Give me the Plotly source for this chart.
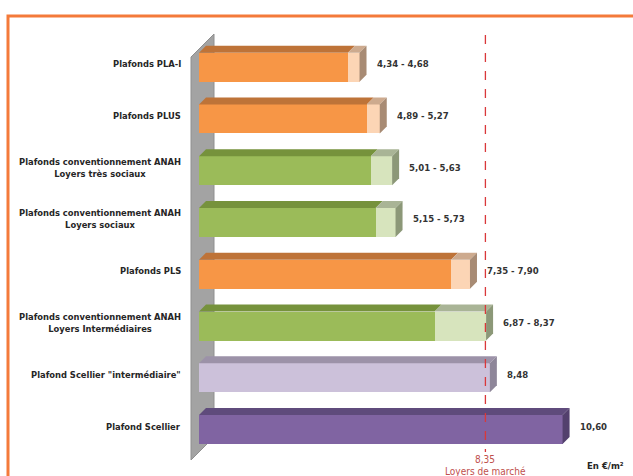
import plotly.graph_objects as go

# ---------------- data ----------------
categories = [
    "Plafonds PLA-I",
    "Plafonds PLUS",
    "Plafonds conventionnement ANAH<br>Loyers très sociaux",
    "Plafonds conventionnement ANAH<br>Loyers sociaux",
    "Plafonds PLS",
    "Plafonds conventionnement ANAH<br>Loyers Intermédiaires",
    "Plafond Scellier \"intermédiaire\"",
    "Plafond Scellier",
]
low_values = [4.34, 4.89, 5.01, 5.15, 7.35, 6.87, 8.48, 10.60]
high_values = [4.68, 5.27, 5.63, 5.73, 7.90, 8.37, 8.48, 10.60]
market_rent = 8.35
market_label = "Loyers de marché"
unit_label = "En €/m²"

# ---------------- styles ----------------
W, H = 633, 476
PX = 34.3          # pixels per € unit
ORIGIN = 199       # pixel x of value 0
ROW = 51.76        # pixel pitch between bars
Y0 = 67.2          # pixel y of first bar centre
BAR_PX = 29
DEPTH = 7

palette = {
    "orange": dict(front="#F79646", light="#FCD5B5", top="#BE7338", ltop="#CDAA8E", side="#A88B74"),
    "green": dict(front="#9BBB59", light="#D7E4BD", top="#76923C", ltop="#A9B496", side="#8C9878"),
    "lpurple": dict(front="#CCC1DA", light="#CCC1DA", top="#9C92A8", ltop="#9C92A8", side="#8E8699"),
    "purple": dict(front="#8064A2", light="#8064A2", top="#5F4B7C", ltop="#5F4B7C", side="#53406D"),
}
groups = ["orange", "orange", "green", "green", "orange", "green", "lpurple", "purple"]

def fmt(v):
    return f"{v:.2f}".replace(".", ",")

xr = [-ORIGIN / PX, (W - ORIGIN) / PX]
yr = [(H - Y0) / ROW, -Y0 / ROW]
bw = BAR_PX / ROW
dx = DEPTH / PX
dy = -DEPTH / ROW

def px2x(p):
    return (p - ORIGIN) / PX

def py2y(p):
    return (p - Y0) / ROW

fig = go.Figure()
shapes = []

# wall
wall = [(px2x(191), py2y(57)), (px2x(214), py2y(34)), (px2x(214), py2y(437)), (px2x(191), py2y(460))]
path = "M " + " L ".join(f"{a},{b}" for a, b in wall) + " Z"
shapes.append(dict(type="path", path=path, xref="x", yref="y", fillcolor="#A3A3A3",
                   line=dict(color="#8F8F8F", width=1), layer="below"))

idx = list(range(len(categories)))
front_cols = [palette[g]["front"] for g in groups]
light_cols = [palette[g]["light"] for g in groups]

fig.add_trace(go.Bar(y=idx, x=low_values, base=0, orientation="h", width=bw,
                     marker=dict(color=front_cols, line=dict(width=0)), showlegend=False))
fig.add_trace(go.Bar(y=idx, x=[h - l for l, h in zip(low_values, high_values)], base=low_values,
                     orientation="h", width=bw,
                     marker=dict(color=light_cols, line=dict(width=0)), showlegend=False))

def poly(pts, color):
    p = "M " + " L ".join(f"{a},{b}" for a, b in pts) + " Z"
    return dict(type="path", path=p, xref="x", yref="y", fillcolor=color,
                line=dict(width=0), layer="above")

for i, (lo, hi, g) in enumerate(zip(low_values, high_values, groups)):
    c = palette[g]
    top = i - bw / 2
    bot = i + bw / 2
    shapes.append(poly([(0, top), (lo, top), (lo + dx, top + dy), (dx, top + dy)], c["top"]))
    if hi > lo:
        shapes.append(poly([(lo, top), (hi, top), (hi + dx, top + dy), (lo + dx, top + dy)], c["ltop"]))
    shapes.append(poly([(hi, top), (hi + dx, top + dy), (hi + dx, bot + dy), (hi, bot)], c["side"]))

# market rent line
shapes.append(dict(type="line", xref="x", yref="y", x0=market_rent, x1=market_rent,
                   y0=py2y(35), y1=py2y(452), line=dict(color="#D9383A", width=1.3, dash="dash"),
                   layer="above"))

# orange frame
shapes.append(dict(type="rect", xref="paper", yref="paper", x0=8 / W, x1=1.2,
                   y0=-0.2, y1=1 - 16 / H, line=dict(color="#F47A3A", width=3), layer="above"))

annotations = []
for i, (cat, lo, hi) in enumerate(zip(categories, low_values, high_values)):
    annotations.append(dict(x=px2x(183), y=i + dy / 2, text=f"<b>{cat}</b>", showarrow=False,
                            xanchor="right", yanchor="middle", align="center",
                            font=dict(size=9.3, color="#262626", family="DejaVu Sans Condensed")))
    txt = fmt(lo) if hi == lo else f"{fmt(lo)} - {fmt(hi)}"
    annotations.append(dict(x=hi + dx + 8 / PX, y=i + dy / 2, text=f"<b>{txt}</b>", showarrow=False,
                            xanchor="left", yanchor="middle",
                            font=dict(size=9.5, color="#333333", family="DejaVu Sans Condensed")))

annotations.append(dict(x=market_rent, y=py2y(459), text=fmt(market_rent), showarrow=False,
                        xanchor="center", yanchor="middle",
                        font=dict(size=10, color="#C0504D", family="DejaVu Sans Condensed")))
annotations.append(dict(x=market_rent, y=py2y(471), text=market_label, showarrow=False,
                        xanchor="center", yanchor="middle",
                        font=dict(size=10, color="#C0504D", family="DejaVu Sans Condensed")))
annotations.append(dict(x=px2x(605), y=py2y(465), text=f"<b>{unit_label}</b>", showarrow=False,
                        xanchor="center", yanchor="middle",
                        font=dict(size=9.5, color="#262626", family="DejaVu Sans Condensed")))

fig.update_layout(
    width=W, height=H, margin=dict(l=0, r=0, t=0, b=0),
    paper_bgcolor="white", plot_bgcolor="white",
    xaxis=dict(range=xr, visible=False, fixedrange=True),
    yaxis=dict(range=yr, visible=False, fixedrange=True),
    shapes=shapes, annotations=annotations, bargap=0, barmode="overlay",
)

fig.write_html("out.html")
